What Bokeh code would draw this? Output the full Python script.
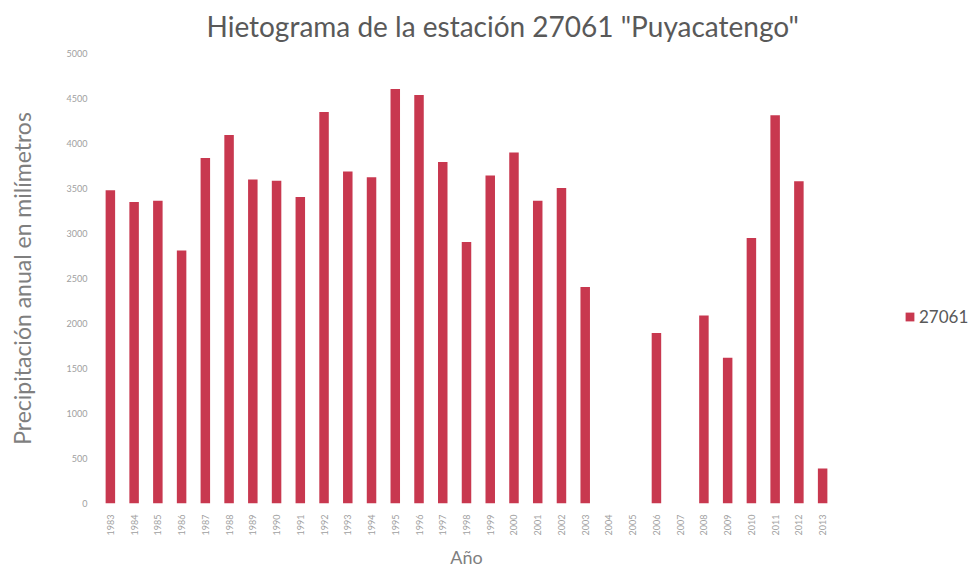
import math
from bokeh.plotting import figure
from bokeh.models import ColumnDataSource, Legend, LegendItem, FixedTicker, Range1d
from bokeh.embed import file_html
from bokeh.resources import INLINE

years = [str(y) for y in range(1983, 2014)]
precip = [3480, 3350, 3365, 2810, 3840, 4095, 3600, 3585, 3405, 4350,
          3690, 3625, 4605, 4540, 3795, 2905, 3645, 3900, 3365, 3505,
          2405, 0, 0, 1895, 0, 2090, 1620, 2950, 4315, 3580, 390]
y_ticks = [0, 500, 1000, 1500, 2000, 2500, 3000, 3500, 4000, 4500, 5000]
series_name = "27061"

FONT = "Lato"
BAR = "#C8384F"
GRAY = "#7F7F7F"

src = ColumnDataSource(dict(year=years, v=precip))

p = figure(x_range=years, y_range=Range1d(0, 5000),
           frame_width=736, frame_height=450,
           output_backend="svg", toolbar_location=None,
           min_border_left=98, min_border_right=10, min_border_top=52, min_border_bottom=0)

r = p.vbar(x="year", top="v", width=0.4, source=src, fill_color=BAR, line_color=None)

p.title.text = 'Hietograma de la estación 27061 "Puyacatengo"'
p.title.align = "left"
p.title.vertical_align = "top"
p.title.text_font = FONT
p.title.text_font_style = "normal"
p.title.text_font_size = "28px"
p.title.text_color = "#595959"
p.title.offset = 108
p.title.standoff = 17

p.xgrid.grid_line_color = None
p.ygrid.grid_line_color = None
p.outline_line_color = None

p.yaxis.ticker = FixedTicker(ticks=y_ticks)
p.yaxis.axis_line_color = None
p.yaxis.major_tick_line_color = None
p.yaxis.minor_tick_line_color = None
p.yaxis.major_label_text_font = FONT
p.yaxis.major_label_text_font_size = "9px"
p.yaxis.major_label_text_color = "#A0A0A0"
p.yaxis.axis_label = "Precipitación anual en milímetros"
p.yaxis.axis_label_text_font = FONT
p.yaxis.axis_label_text_font_style = "normal"
p.yaxis.axis_label_text_font_size = "23px"
p.yaxis.axis_label_text_color = GRAY
p.yaxis.axis_label_standoff = 28

p.xaxis.axis_line_color = None
p.xaxis.major_tick_line_color = None
p.xaxis.minor_tick_line_color = None
p.xaxis.major_label_orientation = math.pi / 2
p.xaxis.major_label_text_font = FONT
p.xaxis.major_label_text_font_size = "9px"
p.xaxis.major_label_text_color = "#A0A0A0"
p.xaxis.axis_label = "Año"
p.xaxis.axis_label_text_font = FONT
p.xaxis.axis_label_text_font_style = "normal"
p.xaxis.axis_label_text_font_size = "18px"
p.xaxis.axis_label_text_color = GRAY
p.xaxis.axis_label_standoff = 8

legend = Legend(items=[LegendItem(label=series_name, renderers=[r])],
                location=(70, 176), border_line_color=None,
                background_fill_alpha=0,
                label_text_font=FONT, label_text_font_size="17px",
                label_text_color="#595959", glyph_width=11, glyph_height=11,
                label_standoff=4, margin=0, padding=0)
p.add_layout(legend, "right")

open("out.html", "w").write(file_html(p, INLINE))
